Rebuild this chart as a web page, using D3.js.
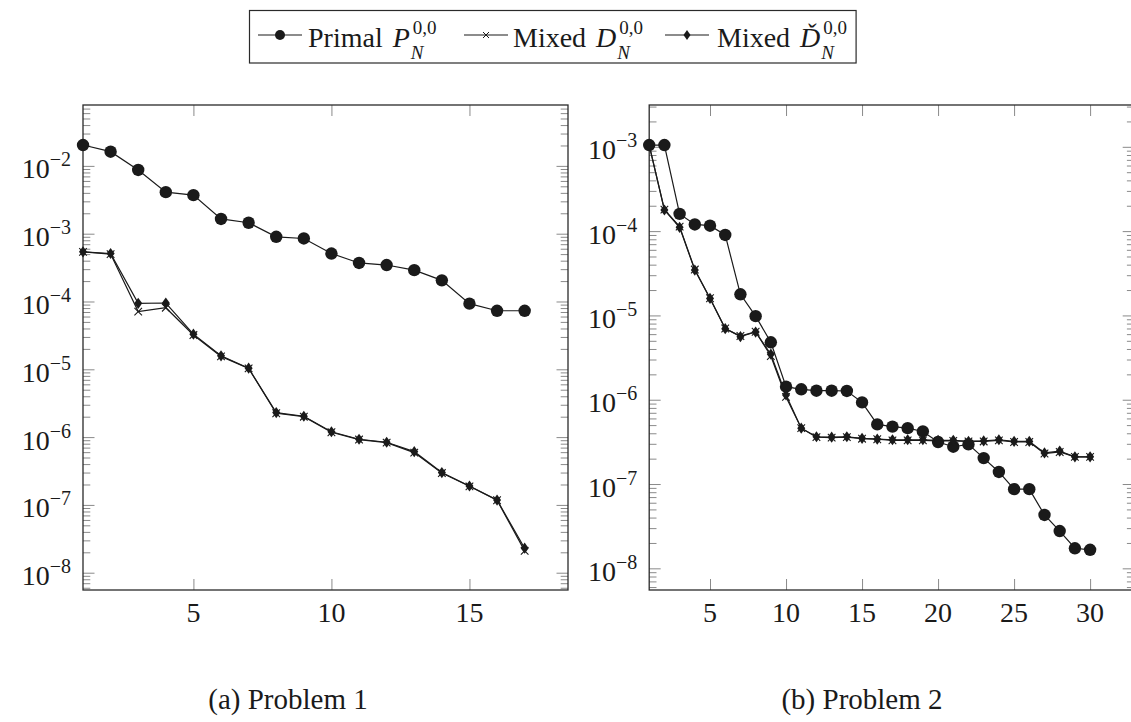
<!DOCTYPE html>
<html><head><meta charset="utf-8">
<script src="https://cdn.jsdelivr.net/npm/d3@7"></script>
<style>
body{margin:0;background:#fff}
svg{display:block}
svg text{font-family:"Liberation Serif","DejaVu Serif","Noto Serif","Tinos","Times New Roman","Times","FreeSerif","Nimbus Roman","Nimbus Roman No9 L",serif;fill:#1a1a1a}
</style>
</head><body>
<svg id="c" width="1131" height="722"></svg>
<script>
// ---------- data ----------
const p1X = [1,2,3,4,5,6,7,8,9,10,11,12,13,14,15,16,17];
const p1Primal  = [2.03e-2,1.62e-2,8.7e-3,4.1e-3,3.7e-3,1.65e-3,1.45e-3,9.0e-4,8.5e-4,5.1e-4,3.7e-4,3.45e-4,2.9e-4,2.05e-4,9.3e-5,7.3e-5,7.3e-5];
const p1MixedD  = [5.4e-4,5.0e-4,7.1e-5,8.1e-5,3.2e-5,1.55e-5,1.03e-5,2.25e-6,2.0e-6,1.18e-6,9.2e-7,8.3e-7,5.9e-7,2.95e-7,1.88e-7,1.17e-7,2.1e-8];
const p1MixedDc = [5.4e-4,5.1e-4,9.4e-5,9.5e-5,3.3e-5,1.58e-5,1.04e-5,2.3e-6,2.03e-6,1.2e-6,9.3e-7,8.4e-7,6.1e-7,3.0e-7,1.9e-7,1.18e-7,2.3e-8];

const p2X = [1,2,3,4,5,6,7,8,9,10,11,12,13,14,15,16,17,18,19,20,21,22,23,24,25,26,27,28,29,30];
const p2Primal  = [1.05e-3,1.05e-3,1.6e-4,1.2e-4,1.16e-4,9.0e-5,1.78e-5,9.8e-6,4.8e-6,1.43e-6,1.33e-6,1.28e-6,1.28e-6,1.27e-6,9.3e-7,5.1e-7,4.8e-7,4.6e-7,4.2e-7,3.15e-7,2.77e-7,2.95e-7,2.03e-7,1.39e-7,8.7e-8,8.7e-8,4.3e-8,2.77e-8,1.73e-8,1.66e-8];
const p2MixedD  = [1.05e-3,1.8e-4,1.13e-4,3.5e-5,1.6e-5,7.0e-6,5.7e-6,6.4e-6,3.3e-6,1.08e-6,4.6e-7,3.6e-7,3.55e-7,3.6e-7,3.45e-7,3.4e-7,3.3e-7,3.3e-7,3.3e-7,3.25e-7,3.25e-7,3.2e-7,3.2e-7,3.3e-7,3.15e-7,3.15e-7,2.3e-7,2.4e-7,2.1e-7,2.1e-7];
const p2MixedDc = [1.05e-3,1.78e-4,1.11e-4,3.45e-5,1.59e-5,6.97e-6,5.6e-6,6.35e-6,3.47e-6,1.14e-6,4.6e-7,3.64e-7,3.6e-7,3.64e-7,3.48e-7,3.4e-7,3.35e-7,3.35e-7,3.35e-7,3.3e-7,3.3e-7,3.2e-7,3.25e-7,3.35e-7,3.2e-7,3.2e-7,2.34e-7,2.45e-7,2.1e-7,2.1e-7];

const p1XTicks = [5,10,15];
const p2XTicks = [5,10,15,20,25,30];
const p1YExps = [-8,-7,-6,-5,-4,-3,-2];
const p2YExps = [-8,-7,-6,-5,-4,-3];
const seriesNames = ["Primal", "Mixed", "Mixed"];
const seriesSymbols = ["P", "D", "\u010E"];
const captions = ["(a) Problem 1", "(b) Problem 2"];

// ---------- drawing ----------
const svg = d3.select("#c");
const INK = "#1a1a1a", TICK = "#8a8a8a", FRAME = "#2a2a2a";

const markers = {
  circle: g => g.append("circle").attr("r", 6.2).attr("fill", INK),
  cross: g => g.append("path").attr("d","M-3.8,-3.8L3.8,3.8M-3.8,3.8L3.8,-3.8").attr("stroke",INK).attr("stroke-width",1.1).attr("fill","none"),
  diamond: g => g.append("path").attr("d","M0,-5.6L4,0L0,5.6L-4,0Z").attr("fill",INK)
};

function panel(cfg){
  const g = svg.append("g");
  const x = d3.scaleLinear().domain(cfg.xDomain).range([cfg.left, cfg.right]);
  const y = d3.scaleLog().domain(cfg.yDomain).range([cfg.bottom, cfg.top]);
  const major = cfg.yExps.map(e => Math.pow(10, e));
  const minor = [];
  const lo = Math.floor(Math.log10(cfg.yDomain[0])), hi = Math.ceil(Math.log10(cfg.yDomain[1]));
  for (let e = lo; e < hi; e++) for (let k = 2; k <= 9; k++) {
    const v = k * Math.pow(10, e);
    if (v >= cfg.yDomain[0] && v <= cfg.yDomain[1]) minor.push(v);
  }
  const style = sel => { sel.select(".domain").remove(); sel.selectAll("line").attr("stroke", TICK).attr("stroke-width", 1); sel.selectAll("text").remove(); };
  g.append("g").attr("transform",`translate(${cfg.left},0)`).call(d3.axisLeft(y).tickValues(minor).tickSize(-7.3).tickSizeOuter(0).tickFormat("")).call(style);
  g.append("g").attr("transform",`translate(${cfg.left},0)`).call(d3.axisLeft(y).tickValues(major).tickSize(-11.5).tickSizeOuter(0).tickFormat("")).call(style);
  g.append("g").attr("transform",`translate(${cfg.right},0)`).call(d3.axisRight(y).tickValues(minor).tickSize(-7.3).tickSizeOuter(0).tickFormat("")).call(style);
  g.append("g").attr("transform",`translate(${cfg.right},0)`).call(d3.axisRight(y).tickValues(major).tickSize(-11.5).tickSizeOuter(0).tickFormat("")).call(style);
  g.append("g").attr("transform",`translate(0,${cfg.bottom})`).call(d3.axisBottom(x).tickValues(cfg.xTicks).tickSize(-11).tickSizeOuter(0).tickFormat("")).call(style);
  g.append("g").attr("transform",`translate(0,${cfg.top})`).call(d3.axisTop(x).tickValues(cfg.xTicks).tickSize(-11).tickSizeOuter(0).tickFormat("")).call(style);
  g.append("rect").attr("x",cfg.left).attr("y",cfg.top).attr("width",cfg.right-cfg.left).attr("height",cfg.bottom-cfg.top)
    .attr("fill","none").attr("stroke",FRAME).attr("stroke-width",1.3);
  cfg.yExps.forEach(e => {
    const t = g.append("text").attr("x", cfg.left - 12).attr("y", y(Math.pow(10,e)) + 12.5)
      .attr("text-anchor","end").attr("font-size",28);
    t.append("tspan").text("10");
    t.append("tspan").attr("dy",-12).attr("font-size",20).text("\u2212" + Math.abs(e));
  });
  cfg.xTicks.forEach(v => {
    g.append("text").attr("x", x(v)).attr("y", cfg.bottom + 32).attr("text-anchor","middle").attr("font-size",28).text(v);
  });
  const line = d3.line().x(d => x(d[0])).y(d => y(d[1]));
  cfg.series.forEach(s => {
    const pts = cfg.xs.map((xv,i) => [xv, s.values[i]]);
    g.append("path").attr("d", line(pts)).attr("fill","none").attr("stroke",INK).attr("stroke-width",1.2);
    pts.forEach(p => {
      const m = g.append("g").attr("transform",`translate(${x(p[0])},${y(p[1])})`);
      markers[s.marker](m);
    });
  });
  svg.append("text").attr("x", cfg.capX).attr("y", 709).attr("text-anchor","middle").attr("font-size",29).text(cfg.caption);
}

panel({left:83, right:568, top:105, bottom:590,
  xDomain:[1,18.57], yDomain:[Math.pow(10,-8.255), Math.pow(10,-1.102)],
  xTicks:p1XTicks, yExps:p1YExps, xs:p1X, capX:288, caption:captions[0],
  series:[{values:p1Primal,marker:"circle"},{values:p1MixedD,marker:"cross"},{values:p1MixedDc,marker:"diamond"}]});

panel({left:649.2, right:1134.2, top:105, bottom:590,
  xDomain:[1,32.9], yDomain:[Math.pow(10,-8.257), Math.pow(10,-2.504)],
  xTicks:p2XTicks, yExps:p2YExps, xs:p2X, capX:862, caption:captions[1],
  series:[{values:p2Primal,marker:"circle"},{values:p2MixedD,marker:"cross"},{values:p2MixedDc,marker:"diamond"}]});

// ---------- legend ----------
const lg = svg.append("g");
const box = lg.append("rect").attr("x",249.5).attr("y",10.5).attr("height",52.5).attr("fill","#fff").attr("stroke",FRAME).attr("stroke-width",1.2);
const legendItems = [
  {x0:258, marker:"circle",  textX:308},
  {x0:464, marker:"cross",   textX:513},
  {x0:665, marker:"diamond", textX:717}
];
const legMarkers = {
  circle: g => g.append("circle").attr("r",5).attr("fill",INK),
  cross: g => g.append("path").attr("d","M-3,-3L3,3M-3,3L3,-3").attr("stroke",INK).attr("stroke-width",1).attr("fill","none"),
  diamond: g => g.append("path").attr("d","M0,-5L3.5,0L0,5L-3.5,0Z").attr("fill",INK)
};
let rightEnd = 0;
legendItems.forEach((it, i) => {
  lg.append("line").attr("x1",it.x0).attr("x2",it.x0+44).attr("y1",35).attr("y2",35).attr("stroke",INK).attr("stroke-width",1.2);
  legMarkers[it.marker](lg.append("g").attr("transform",`translate(${it.x0+22},35)`));
  const nm = lg.append("text").attr("x",it.textX).attr("y",47).attr("font-size",28).text(seriesNames[i]);
  const symX = it.textX + nm.node().getComputedTextLength() + 10;
  const sy = lg.append("text").attr("x",symX).attr("y",47).attr("font-size",28).attr("font-style","italic").text(seriesSymbols[i]);
  const sw = sy.node().getComputedTextLength();
  const sup = lg.append("text").attr("x",symX + sw + 3).attr("y",34).attr("font-size",19).text("0,0");
  lg.append("text").attr("x",symX + sw + 1).attr("y",59).attr("font-size",19).attr("font-style","italic").text("N");
  rightEnd = symX + sw + 3 + sup.node().getComputedTextLength();
});
box.attr("width", Math.max(rightEnd + 9 - 249.5, 600));
</script>
</body></html>
